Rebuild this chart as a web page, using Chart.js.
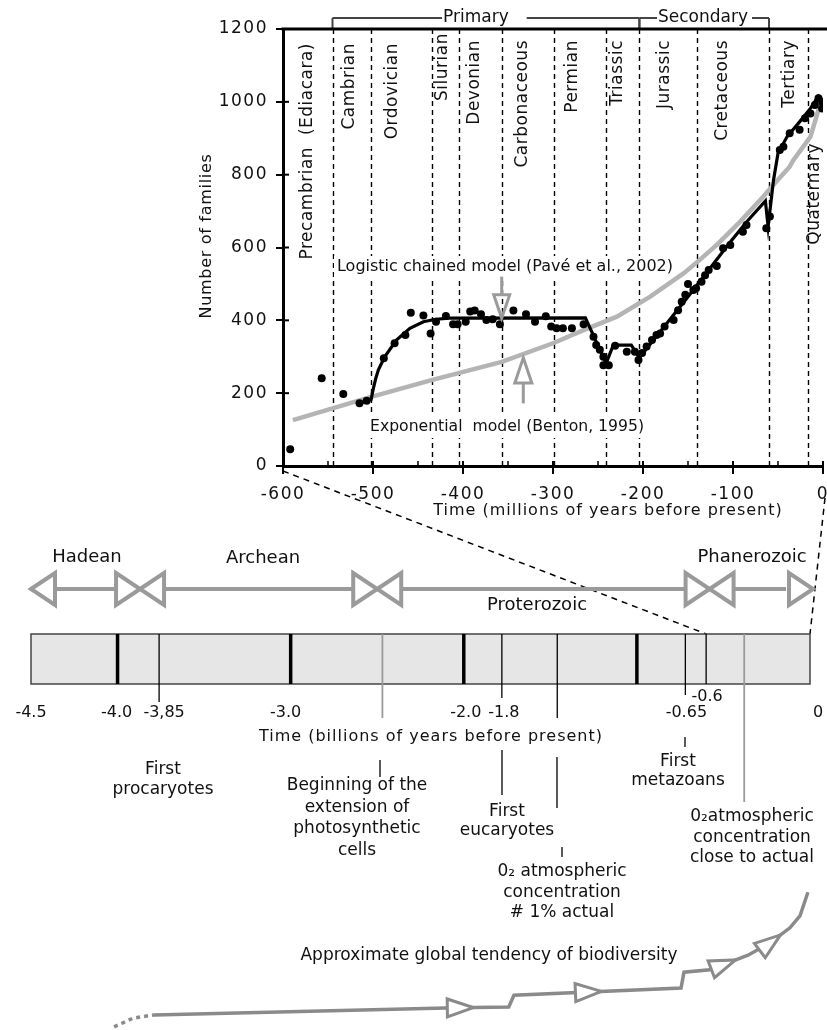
<!DOCTYPE html>
<html lang="en">
<head>
<meta charset="UTF-8">
<title>Biodiversity through geological time</title>
<script src="https://cdn.jsdelivr.net/npm/chart.js@4.4.1/dist/chart.umd.min.js"></script>
<style>
    html, body { margin: 0; padding: 0; background: #fff; }
    #figure { position: relative; width: 827px; height: 1030px; }
    #figure canvas { position: absolute; left: 0; top: 0; }
</style>
</head>
<body>
<div id="figure">
    <canvas id="timelineChart" width="827" height="1030"></canvas>
    <canvas id="familiesChart" width="827" height="530"></canvas>
</div>
<script>
// Number of families (millions of years before present)
const familyTimes = [-592, -557, -533, -515, -507, -488, -476, -464, -458, -444, -436, -430, -419, -411, -406,
    -397, -392, -387, -380, -374, -367, -359, -344, -330, -320, -308, -302, -296, -289, -279, -266, -255, -252,
    -248, -244, -244, -238, -231, -218, -209, -205, -201, -196, -190, -185, -181, -176, -166, -161, -157, -153,
    -150, -144, -141, -135, -131, -127, -118, -111, -103, -89, -85, -63, -59, -48, -44, -37, -26, -20, -14, -9,
    -5, -1, -1];
const familyCounts = [46, 241, 198, 172, 179, 296, 337, 360, 421, 413, 364, 396, 412, 389, 389,
    396, 424, 427, 417, 401, 403, 389, 427, 417, 396, 411, 383, 378, 378, 378, 389, 355, 332,
    319, 300, 277, 277, 330, 314, 314, 291, 310, 328, 346, 360, 364, 383, 401, 428, 451, 470,
    500, 483, 488, 506, 524, 538, 549, 598, 607, 643, 662, 653, 685, 868, 877, 914, 923, 955, 968, 991,
    1010, 1000, 982];

// Logistic chained model (Pavé et al., 2002)
const logisticTimes = [-515, -502, -500, -497, -494, -487, -474, -459, -444, -430, -415, -264, -241, -233,
    -213, -204, -150, -103, -85, -64, -61, -55, -50, -40, -26, -14, -4];
const logisticValues = [172, 183, 209, 240, 264, 300, 346, 378, 396, 403, 406, 407, 282, 332,
    332, 297, 465, 615, 670, 728, 657, 785, 859, 904, 945, 982, 1020];

// Exponential model (Benton, 1995)
const exponentialTimes = [-589, -502, -435, -357, -300, -266, -229, -192, -155, -137, -118, -92, -68, -57,
    -37, -33, -26, -14, -5, -3];
const exponentialValues = [126, 190, 236, 286, 337, 373, 410, 465, 529, 566, 607, 671, 735, 767,
    822, 840, 863, 904, 978, 991];

// Axis ticks
const timeTicks = [-600, -500, -400, -300, -200, -100, 0];
const familyTicks = [0, 200, 400, 600, 800, 1000, 1200];

// Geological periods
const periodStarts = [-545, -502, -434, -404, -357, -299, -241, -204, -140, -60, -17];
const periodNames = ['Precambrian  (Ediacara)', 'Cambrian', 'Ordovician', 'Silurian', 'Devonian',
    'Carbonaceous', 'Permian', 'Triassic', 'Jurassic', 'Cretaceous', 'Tertiary', 'Quaternary'];
const periodCentres = [-573, -526, -478, -423, -387, -334, -278, -228, -176, -112, -37, -9];
const eraNames = ['Primary', 'Secondary'];
const eraStarts = [-545, -204];
const eraEnds = [-204, -60];

// Lower time line (billions of years before present)
const eonNames = ['Hadean', 'Archean', 'Proterozoic', 'Phanerozoic'];
const eonBounds = [-4.5, -3.87, -2.5, -0.58, 0];
const billionMarks = [-4, -3, -2, -1];
const timelineTicks = [-4.5, -4.0, -3.76, -3.0, -2.0, -1.78, -0.72, -0.60, 0];
const timelineTickLabels = ['-4.5', '-4.0', '-3,85', '-3.0', '-2.0', '-1.8', '-0.65', '-0.6', '0'];
const eventMarks = [-3.76, -2.47, -1.78, -1.46, -0.72, -0.38];
const eventTexts = [
    ['First', 'procaryotes'],
    ['Beginning of the', 'extension of', 'photosynthetic', 'cells'],
    ['First', 'eucaryotes'],
    ['0\u2082 atmospheric', 'concentration', '# 1% actual'],
    ['First', 'metazoans'],
    ['0\u2082atmospheric', 'concentration', 'close to actual']
];

// Approximate global tendency of biodiversity
const tendencyTimes = [-4.02, -3.91, -3.79, -2.045, -1.74, -1.71, -0.745, -0.728, -0.578, -0.358, -0.231,
    -0.116, -0.058, -0.012];
const tendencyLevels = [0.8, 3, 3.8, 5.6, 5.8, 8.8, 10.6, 14.6, 15.2, 18.9, 22.0, 25.8, 28.8, 34.8];
const tendencyArrows = [-2.02, -1.28, -0.50, -0.23];

// Styles
const FONT = '"DejaVu Sans", Verdana, sans-serif';
const GREY = '#9a9a9a';
const periodNameTops = [43, 43, 43, 33, 40, 40, 40, 40, 40, 40, 40, 143];
const eventLayout = [
    { x: 163, y: 770, gap: 19.5, colour: '#000', markEnd: 702, leaders: [] },
    { x: 357, y: 786, gap: 21.5, colour: GREY, markEnd: 718, leaders: [[380, 760, 777]] },
    { x: 507, y: 812, gap: 19, colour: '#000', markEnd: 698, leaders: [[502, 750, 795]] },
    { x: 562, y: 872, gap: 20.5, colour: '#000', markEnd: 718, leaders: [[557, 757, 808], [562, 847, 857]] },
    { x: 678, y: 762, gap: 19, colour: '#000', markEnd: 695, leaders: [[685, 737, 747]] },
    { x: 752, y: 817, gap: 20.5, colour: GREY, markEnd: 802, leaders: [] }
];

let familiesChart = null;
let timelineChart = null;

function toPoints(xs, ys) {
    return xs.map((x, i) => ({ x: x, y: ys[i] }));
}

function strokeLine(ctx, x1, y1, x2, y2) {
    ctx.beginPath();
    ctx.moveTo(x1, y1);
    ctx.lineTo(x2, y2);
    ctx.stroke();
}

// Open triangle, tip at (x, y), pointing along angle
function openTriangle(ctx, x, y, angle, length, half, fill) {
    const bx = x - Math.cos(angle) * length;
    const by = y - Math.sin(angle) * length;
    const nx = -Math.sin(angle) * half;
    const ny = Math.cos(angle) * half;
    ctx.beginPath();
    ctx.moveTo(x, y);
    ctx.lineTo(bx + nx, by + ny);
    ctx.lineTo(bx - nx, by - ny);
    ctx.closePath();
    if (fill) {
        ctx.fillStyle = fill;
        ctx.fill();
    }
    ctx.stroke();
}

// Text with a white box behind it
function boxedText(ctx, text, left, y, width) {
    ctx.fillStyle = '#fff';
    ctx.fillRect(left - 3, y - 11, width + 6, 22);
    ctx.fillStyle = '#111';
    ctx.textAlign = 'left';
    ctx.textBaseline = 'middle';
    ctx.fillText(text, left, y, width);
}

// Decorations of the families plot
const familyDecor = {
    id: 'familyDecor',
    beforeDraw(chart) {
        // wider letters for the tick labels
        chart.ctx.letterSpacing = '1.5px';
    },
    beforeDatasetsDraw(chart) {
        const { ctx, chartArea, scales: { x } } = chart;
        ctx.letterSpacing = '0px';
        ctx.save();

        // Period boundaries
        ctx.strokeStyle = '#000';
        ctx.lineWidth = 1.4;
        ctx.setLineDash([5, 4]);
        periodStarts.forEach(v => {
            const px = Math.round(x.getPixelForValue(v)) + 0.5;
            strokeLine(ctx, px, chartArea.top, px, chartArea.bottom);
        });
        ctx.setLineDash([]);

        // Period names
        ctx.font = '17px ' + FONT;
        ctx.letterSpacing = '0.5px';
        ctx.fillStyle = '#111';
        ctx.textAlign = 'right';
        ctx.textBaseline = 'middle';
        periodNames.forEach((name, i) => {
            ctx.save();
            ctx.translate(x.getPixelForValue(periodCentres[i]), periodNameTops[i]);
            ctx.rotate(-Math.PI / 2);
            ctx.fillText(name, 0, 0);
            ctx.restore();
        });
        ctx.letterSpacing = '0px';

        // Primary / Secondary brackets
        ctx.strokeStyle = '#444';
        ctx.lineWidth = 2;
        const bracketY = 18;
        eraNames.forEach((name, i) => {
            const x1 = x.getPixelForValue(eraStarts[i]);
            const x2 = x.getPixelForValue(eraEnds[i]);
            strokeLine(ctx, x1, bracketY, x2, bracketY);
            strokeLine(ctx, x1, bracketY, x1, chartArea.top);
            strokeLine(ctx, x2, bracketY, x2, chartArea.top);
        });
        ctx.font = '17px ' + FONT;
        ctx.textBaseline = 'middle';
        ctx.textAlign = 'left';
        [[443, 18, 'Primary'], [658, 4, 'Secondary']].forEach(([left, padRight, name]) => {
            const w = ctx.measureText(name).width;
            ctx.fillStyle = '#fff';
            ctx.fillRect(left - 1, bracketY - 6, w + padRight + 1, 12);
            ctx.fillStyle = '#111';
            ctx.fillText(name, left, bracketY);
        });

        // Model labels
        ctx.font = '16px ' + FONT;
        boxedText(ctx, 'Logistic chained model (Pavé et al., 2002)', 337, 267, 336);
        boxedText(ctx, 'Exponential  model (Benton, 1995)', 370, 427, 274);
        ctx.restore();
    },
    afterDatasetsDraw(chart) {
        const { ctx, scales: { x, y } } = chart;
        ctx.save();
        ctx.strokeStyle = GREY;
        ctx.lineWidth = 3;
        // Arrow to the logistic model
        const ax = x.getPixelForValue(-357);
        strokeLine(ctx, ax, y.getPixelForValue(520), ax, y.getPixelForValue(470));
        openTriangle(ctx, ax, y.getPixelForValue(406), Math.PI / 2, y.getPixelForValue(406) - y.getPixelForValue(470), 8);
        // Arrow to the exponential model
        const bx = x.getPixelForValue(-333);
        strokeLine(ctx, bx, y.getPixelForValue(172), bx, y.getPixelForValue(228));
        openTriangle(ctx, bx, y.getPixelForValue(297), -Math.PI / 2, y.getPixelForValue(228) - y.getPixelForValue(297), 8.5);
        ctx.restore();
    },
    afterDraw(chart) {
        const { ctx, chartArea, scales: { x, y } } = chart;
        ctx.save();
        ctx.fillStyle = '#000';
        // Top frame line
        ctx.fillRect(chartArea.left - 1.5, chartArea.top - 1.5, chart.width - chartArea.left + 1.5, 3);

        // Small ticks inside the axes
        ctx.strokeStyle = '#000';
        ctx.lineWidth = 2;
        timeTicks.forEach(v => {
            const px = x.getPixelForValue(v);
            strokeLine(ctx, px, chartArea.bottom, px, chartArea.bottom - 5);
        });
        ctx.lineWidth = 1.5;
        for (let v = -550; v < 0; v += 100) {
            const px = x.getPixelForValue(v);
            strokeLine(ctx, px, chartArea.bottom, px, chartArea.bottom - 5);
        }
        ctx.lineWidth = 2;
        familyTicks.slice(1, -1).forEach(v => {
            const py = y.getPixelForValue(v);
            strokeLine(ctx, chartArea.left, py, chartArea.left + 6, py);
        });

        // Axis titles
        ctx.fillStyle = '#111';
        ctx.font = '16px ' + FONT;
        ctx.textAlign = 'center';
        ctx.textBaseline = 'middle';
        ctx.letterSpacing = '1px';
        ctx.fillText('Time (millions of years before present)', 608, 511);
        ctx.letterSpacing = '0.7px';
        ctx.save();
        ctx.translate(207, 236);
        ctx.rotate(-Math.PI / 2);
        ctx.fillText('Number of families', 0, 0);
        ctx.restore();
        ctx.restore();
        ctx.letterSpacing = '0px';
    }
};

// Decorations of the lower time line
const timelineDecor = {
    id: 'timelineDecor',
    beforeDatasetsDraw(chart) {
        const { ctx, scales: { x } } = chart;
        const px = v => x.getPixelForValue(v);
        const barTop = 634;
        const barBottom = 684;
        ctx.save();

        // Dashed lines joining the two time scales
        if (familiesChart) {
            const fx = familiesChart.scales.x;
            const fy = familiesChart.scales.y;
            ctx.strokeStyle = '#000';
            ctx.lineWidth = 1.5;
            ctx.setLineDash([6, 5]);
            strokeLine(ctx, fx.getPixelForValue(-600), fy.getPixelForValue(0) + 5, px(-0.6), barTop);
            strokeLine(ctx, fx.getPixelForValue(0) + 2, fy.getPixelForValue(0) + 32, px(0), barTop);
            ctx.setLineDash([]);
        }

        // Eon arrows
        const eonY = 589;
        const headLen = 24;
        const headHalf = 16;
        ctx.strokeStyle = GREY;
        ctx.lineWidth = 4;
        ctx.lineJoin = 'miter';
        for (let i = 0; i < eonBounds.length - 1; i++) {
            strokeLine(ctx, px(eonBounds[i]) + headLen, eonY, px(eonBounds[i + 1]) - headLen, eonY);
        }
        eonBounds.forEach((b, i) => {
            const bx = i === eonBounds.length - 1 ? px(b) + 3 : px(b);
            if (i > 0) openTriangle(ctx, bx, eonY, 0, headLen, headHalf, '#fff');
            if (i < eonBounds.length - 1) openTriangle(ctx, bx, eonY, Math.PI, headLen, headHalf, '#fff');
        });
        ctx.fillStyle = '#111';
        ctx.font = '18px ' + FONT;
        ctx.textAlign = 'center';
        ctx.textBaseline = 'middle';
        [[87, 557], [263, 558], [537, 605], [752, 557]].forEach(([lx, ly], i) => {
            ctx.fillText(eonNames[i], lx, ly);
        });

        // Time bar
        ctx.fillStyle = '#e6e6e6';
        ctx.fillRect(px(-4.5), barTop, px(0) - px(-4.5), barBottom - barTop);
        ctx.strokeStyle = '#444';
        ctx.lineWidth = 1.5;
        ctx.strokeRect(px(-4.5), barTop, px(0) - px(-4.5), barBottom - barTop);

        ctx.strokeStyle = '#000';
        ctx.lineWidth = 3.5;
        billionMarks.forEach(v => strokeLine(ctx, px(v), barTop, px(v), barBottom));

        // Event marks and their leaders
        eventMarks.forEach((v, i) => {
            const lay = eventLayout[i];
            ctx.strokeStyle = lay.colour;
            ctx.lineWidth = lay.colour === GREY ? 1.8 : 1.3;
            strokeLine(ctx, px(v), barTop, px(v), lay.markEnd);
            ctx.strokeStyle = '#000';
            ctx.lineWidth = 1.3;
            lay.leaders.forEach(([lx, y1, y2]) => strokeLine(ctx, lx, y1, lx, y2));
        });
        ctx.lineWidth = 1.3;
        strokeLine(ctx, px(-0.6), barTop, px(-0.6), barBottom);

        // Tick labels of the time bar
        ctx.fillStyle = '#111';
        ctx.font = '16px ' + FONT;
        const labelShift = [0, -1, 5, -5, 2, 2, 1, 1, 8];
        timelineTicks.forEach((v, i) => {
            const ly = timelineTickLabels[i] === '-0.6' ? 697 : 713;
            ctx.fillText(timelineTickLabels[i], px(v) + labelShift[i], ly);
        });
        ctx.letterSpacing = '1px';
        ctx.fillText('Time (billions of years before present)', 431, 737);
        ctx.letterSpacing = '0px';

        // Event descriptions
        ctx.font = '17px ' + FONT;
        eventTexts.forEach((lines, i) => {
            const lay = eventLayout[i];
            lines.forEach((line, j) => ctx.fillText(line, lay.x, lay.y + j * lay.gap));
        });

        ctx.fillText('Approximate global tendency of biodiversity', 489, 956);
        ctx.restore();
    },
    afterDatasetsDraw(chart) {
        const { ctx, scales: { x } } = chart;
        const pts = chart.getDatasetMeta(0).data;
        ctx.save();
        ctx.strokeStyle = '#8a8a8a';
        ctx.lineWidth = 3;
        ctx.lineJoin = 'miter';
        tendencyArrows.forEach(t => {
            const ax = x.getPixelForValue(t);
            for (let i = 0; i < pts.length - 1; i++) {
                const a = pts[i];
                const b = pts[i + 1];
                if (ax >= a.x && ax <= b.x) {
                    const f = (ax - a.x) / (b.x - a.x);
                    const ay = a.y + f * (b.y - a.y);
                    const ang = Math.atan2(b.y - a.y, b.x - a.x);
                    const tipX = ax + Math.cos(ang) * 13;
                    const tipY = ay + Math.sin(ang) * 13;
                    openTriangle(ctx, tipX, tipY, ang, 26, 9, '#fff');
                    break;
                }
            }
        });
        ctx.restore();
    }
};

document.addEventListener('DOMContentLoaded', function() {
    Chart.defaults.font.family = FONT;
    Chart.defaults.color = '#111';

    // Upper plot: number of families
    familiesChart = new Chart(document.getElementById('familiesChart'), {
        type: 'scatter',
        data: {
            datasets: [
                {
                    label: 'Number of families',
                    data: toPoints(familyTimes, familyCounts),
                    pointRadius: 4,
                    pointBackgroundColor: '#000',
                    pointBorderWidth: 0,
                    showLine: false
                },
                {
                    type: 'line',
                    label: 'Logistic chained model (Pavé et al., 2002)',
                    data: toPoints(logisticTimes, logisticValues),
                    borderColor: '#000',
                    borderWidth: 3.2,
                    pointRadius: 0,
                    tension: 0,
                    fill: false
                },
                {
                    type: 'line',
                    label: 'Exponential model (Benton, 1995)',
                    data: toPoints(exponentialTimes, exponentialValues),
                    borderColor: '#b4b4b4',
                    borderWidth: 4.5,
                    pointRadius: 0,
                    tension: 0,
                    fill: false
                }
            ]
        },
        options: {
            responsive: false,
            animation: false,
            events: [],
            layout: { padding: { top: 29, right: 4, left: 0, bottom: 0 } },
            plugins: { legend: { display: false }, tooltip: { enabled: false } },
            scales: {
                x: {
                    type: 'linear',
                    min: -600,
                    max: 0,
                    afterBuildTicks: scale => { scale.ticks = timeTicks.map(v => ({ value: v })); },
                    afterFit: scale => {
                        scale.height = 64;
                        scale.paddingLeft = 0;
                        scale.paddingRight = 0;
                    },
                    ticks: {
                        font: { size: 17 }, color: '#111', padding: 10, maxRotation: 0, autoSkip: false,
                        callback: value => String(value)
                    },
                    grid: { drawOnChartArea: false, drawTicks: true, tickLength: 8, color: '#000', lineWidth: 2 },
                    border: { display: true, color: '#000', width: 3 }
                },
                y: {
                    type: 'linear',
                    min: 0,
                    max: 1200,
                    afterBuildTicks: scale => { scale.ticks = familyTicks.map(v => ({ value: v })); },
                    afterFit: scale => { scale.width = 283; },
                    ticks: { font: { size: 17 }, color: '#111', padding: 8, callback: value => String(value) },
                    grid: { drawOnChartArea: false, drawTicks: true, tickLength: 7, color: '#000', lineWidth: 2 },
                    border: { display: true, color: '#000', width: 3 }
                }
            }
        },
        plugins: [familyDecor]
    });

    // Lower plot: geological time line and tendency of biodiversity
    timelineChart = new Chart(document.getElementById('timelineChart'), {
        type: 'line',
        data: {
            datasets: [{
                label: 'Approximate global tendency of biodiversity',
                data: toPoints(tendencyTimes, tendencyLevels),
                borderColor: '#8a8a8a',
                borderWidth: 3.5,
                pointRadius: 0,
                tension: 0,
                fill: false,
                segment: {
                    borderDash: ctx => ctx.p1DataIndex <= 2 ? [4, 4] : undefined
                }
            }]
        },
        options: {
            responsive: false,
            animation: false,
            events: [],
            layout: { padding: { left: 31, right: 17, top: 634, bottom: 0 } },
            plugins: { legend: { display: false }, tooltip: { enabled: false } },
            scales: {
                x: { type: 'linear', min: -4.5, max: 0, display: false },
                y: { type: 'linear', min: 0, max: 100, display: false }
            }
        },
        plugins: [timelineDecor]
    });
});
</script>
</body>
</html>
